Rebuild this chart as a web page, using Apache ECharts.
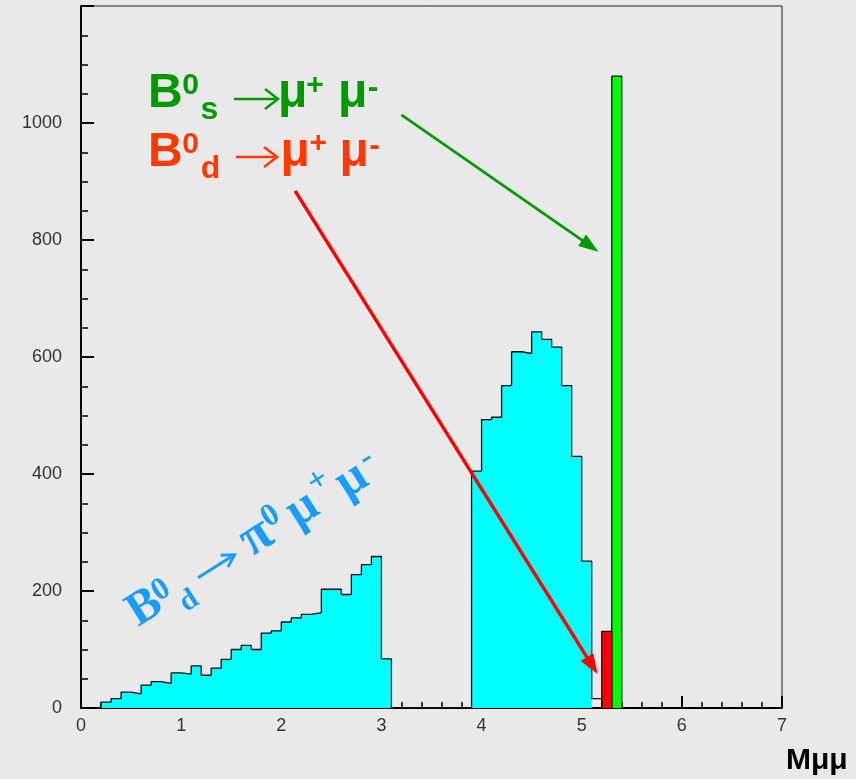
<!DOCTYPE html>
<html>
<head>
<meta charset="utf-8">
<script src="https://cdn.jsdelivr.net/npm/echarts@6/dist/echarts.min.js"></script>
<style>
  html, body { margin: 0; padding: 0; background: #e9e9e9; }
  #main { width: 856px; height: 779px; }
</style>
</head>
<body>
<div id="main"></div>
<script>
// Dimuon invariant mass histograms, bin width 0.1
const binWidth = 0.1;

// B0d -> pi0 mu+ mu- background, filled bins starting at 0.2
const bkgStart = 0.2;
const bkgCounts = [
  10, 16, 27, 24, 39, 45, 42, 60, 58, 72,
  56, 68, 83, 100, 107, 100, 128, 132, 147, 154,
  160, 163, 203, 203, 194, 228, 245, 259, 84,
  0, 0, 0, 0, 0, 0, 0, 0,
  405, 493, 497, 551, 609, 606, 643, 630, 617, 551, 430, 251
];
// last background bin, drawn as outline only
const bkgTailCounts = [16];

// B0d -> mu+ mu- signal
const sigDStart = 5.2;
const sigDCounts = [131];

// B0s -> mu+ mu- signal
const sigSStart = 5.3;
const sigSCounts = [1080];

// annotation arrows, in data coordinates
const arrowS = { from: [3.20, 1014], to: [5.168, 780] };
const arrowD = { from: [2.138, 884], to: [5.158, 58] };

const xMin = 0, xMax = 7, xStep = 1;
const yMin = 0, yMax = 1200, yStep = 200;

function stepPoints(start, counts) {
  const pts = [[start, 0]];
  counts.forEach((c, i) => pts.push([+(start + i * binWidth).toFixed(4), c]));
  const end = +(start + counts.length * binWidth).toFixed(4);
  pts.push([end, counts[counts.length - 1]]);
  pts.push([end, 0]);
  return pts;
}

function histSeries(points, fill, stroke) {
  return {
    type: 'line',
    step: 'end',
    data: points,
    symbol: 'none',
    silent: true,
    animation: false,
    lineStyle: stroke ? { color: stroke, width: 1.3 } : { width: 0, opacity: 0 },
    areaStyle: fill ? { color: fill, opacity: 1 } : undefined
  };
}

const chart = echarts.init(document.getElementById('main'), null, { renderer: 'canvas' });

const axisCommon = {
  axisLine: { show: true, onZero: false, lineStyle: { color: '#000', width: 2 } },
  axisTick: { show: true, inside: true, lineStyle: { color: '#000', width: 2 } },
  minorTick: { show: true, lineStyle: { color: '#000', width: 1.5 } },
  splitLine: { show: false },
  axisLabel: {
    color: '#333', fontSize: 18, fontFamily: 'Liberation Sans, Arial, sans-serif',
    formatter: v => String(v)
  }
};

chart.setOption({
  backgroundColor: '#e9e9e9',
  animation: false,
  grid: { left: 81, right: 74, top: 6, bottom: 71, show: true, borderColor: '#222', borderWidth: 1, backgroundColor: 'transparent' },
  xAxis: Object.assign({}, axisCommon, {
    type: 'value', min: xMin, max: xMax, interval: xStep,
    axisTick: Object.assign({}, axisCommon.axisTick, { length: 12 }),
    minorTick: Object.assign({}, axisCommon.minorTick, { splitNumber: 5, length: 6 }),
    axisLabel: Object.assign({}, axisCommon.axisLabel, { margin: 9 })
  }),
  yAxis: Object.assign({}, axisCommon, {
    type: 'value', min: yMin, max: yMax, interval: yStep,
    axisTick: Object.assign({}, axisCommon.axisTick, { length: 13 }),
    minorTick: Object.assign({}, axisCommon.minorTick, { splitNumber: 4, length: 7 }),
    axisLabel: Object.assign({}, axisCommon.axisLabel, { margin: 19, showMaxLabel: false })
  }),
  series: [
    histSeries(stepPoints(bkgStart, bkgCounts), '#00ffff', null),
    histSeries(stepPoints(bkgStart, bkgCounts.concat(bkgTailCounts)), null, '#111'),
    histSeries(stepPoints(sigDStart, sigDCounts), '#ff0000', '#111'),
    histSeries(stepPoints(sigSStart, sigSCounts), '#00ff00', '#111')
  ]
});

// ---- annotations ----
const SANS = '"Liberation Sans", Arial, sans-serif';
const SERIF = '"Liberation Serif", "Times New Roman", serif';
const Z = 100;

function txt(x, y, s, size, color, align, family) {
  return {
    type: 'text', x: x, y: y, silent: true, z: Z,
    style: {
      text: s, fill: color,
      font: 'bold ' + size + 'px ' + (family || SANS),
      align: align || 'left', verticalAlign: 'middle'
    }
  };
}

function openArrow(x1, y, x2, color, width, headLen, headHalf) {
  return [
    { type: 'line', silent: true, z: Z, shape: { x1: x1, y1: y, x2: x2 - 1, y2: y }, style: { stroke: color, lineWidth: width } },
    { type: 'polyline', silent: true, z: Z,
      shape: { points: [[x2 - headLen, y - headHalf], [x2, y], [x2 - headLen, y + headHalf]] },
      style: { stroke: color, lineWidth: width, fill: null, lineJoin: 'miter' } }
  ];
}

function solidArrow(p1, p2, color, width, headLen, headHalf) {
  const dx = p2[0] - p1[0], dy = p2[1] - p1[1];
  const L = Math.hypot(dx, dy), ux = dx / L, uy = dy / L;
  const bx = p2[0] - ux * headLen, by = p2[1] - uy * headLen;
  return [
    { type: 'line', silent: true, z: Z, shape: { x1: p1[0], y1: p1[1], x2: bx + ux * 2, y2: by + uy * 2 },
      style: { stroke: color, lineWidth: width } },
    { type: 'polygon', silent: true, z: Z,
      shape: { points: [p2, [bx - uy * headHalf, by + ux * headHalf], [bx + uy * headHalf, by - ux * headHalf]] },
      style: { fill: color } }
  ];
}

const green = '#009900';
const orange = '#ff3a00';
const blue = '#1a9cff';

const greenLabel = [
  txt(148, 94, 'B', 48, green),
  txt(190.5, 86, '0', 30, green, 'center'),
  txt(209.5, 110, 's', 32, green, 'center'),
  txt(278, 94, 'μ', 48, green),
  txt(315, 86, '+', 30, green, 'center'),
  txt(338, 94, 'μ', 48, green),
  txt(373, 88, '-', 32, green, 'center')
].concat(openArrow(234, 99, 278, green, 2.5, 13, 10));

const redLabel = [
  txt(148, 152.5, 'B', 48, orange),
  txt(190.5, 144.5, '0', 30, orange, 'center'),
  txt(210.5, 169, 'd', 32, orange, 'center'),
  txt(280.5, 152.5, 'μ', 48, orange),
  txt(318.3, 143.5, '+', 30, orange, 'center'),
  txt(339.5, 152.5, 'μ', 48, orange),
  txt(374.5, 146, '-', 32, orange, 'center')
].concat(openArrow(236, 157, 277, orange, 2.5, 13, 10));

const blueLabel = {
  type: 'group', x: 140, y: 630, rotation: 0.565, silent: true, z: Z,
  children: [
    txt(0, -16, 'B', 48, blue, 'left', SERIF),
    txt(39, -22, '0', 32, blue, 'center', SERIF),
    txt(57, 2, 'd', 30, blue, 'center', SERIF),
    txt(148, -16, 'π', 54, blue, 'center', SERIF),
    txt(171, -26, '0', 32, blue, 'center', SERIF),
    txt(202, -15, 'μ', 50, blue, 'center', SERIF),
    txt(230, -30, '+', 34, blue, 'center', SERIF),
    txt(259, -13, 'μ', 50, blue, 'center', SERIF),
    txt(283, -24, '-', 34, blue, 'center', SERIF)
  ].concat(openArrow(77, -13, 120, blue, 3, 12, 7))
};

const px = p => chart.convertToPixel({ gridIndex: 0 }, p);

chart.setOption({
  graphic: [].concat(
    greenLabel,
    redLabel,
    [blueLabel],
    solidArrow(px(arrowS.from), px(arrowS.to), green, 2.7, 20, 7),
    solidArrow(px(arrowD.from), px(arrowD.to), '#ff0000', 3.5, 20, 7.5),
    [txt(786, 761, 'Mμμ', 30, '#000')]
  )
});
</script>
</body>
</html>
